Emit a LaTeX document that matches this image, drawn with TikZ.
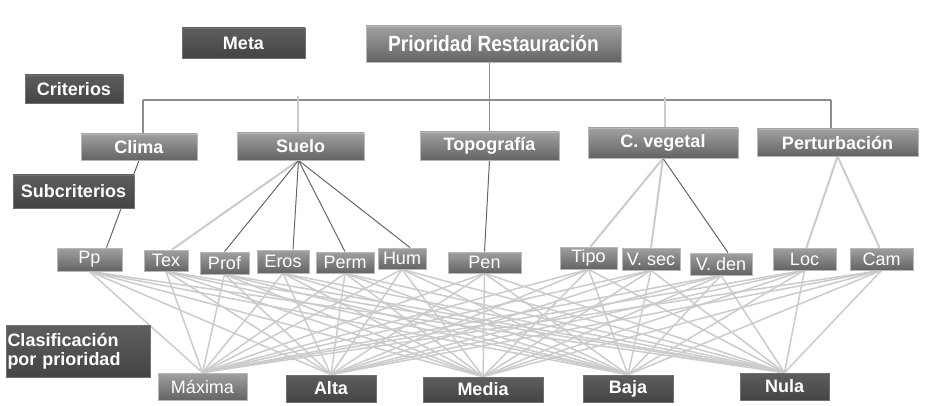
\documentclass[tikz,border=0pt]{standalone}
\usepackage{fontspec}
\setmainfont{Liberation Sans}
\usetikzlibrary{backgrounds,calc}
\definecolor{gtop}{HTML}{A0A0A0}
\definecolor{gbot}{HTML}{646464}
\definecolor{gedge}{HTML}{B8B8B8}
\definecolor{dtop}{HTML}{5E5E5E}
\definecolor{dbot}{HTML}{444444}
\definecolor{dedge}{HTML}{707070}
\definecolor{lightln}{HTML}{CBCBCB}
\definecolor{darkln}{HTML}{666666}
\definecolor{midln}{HTML}{8C8C8C}
\tikzset{
  basebox/.style={inner sep=0pt, text=white, line width=0.8pt, font=\fontsize{18}{20}\selectfont},
  medbox/.style={basebox, draw=gedge, top color=gtop, bottom color=gbot},
  medbold/.style={medbox, font=\fontsize{18}{20}\selectfont\bfseries},
  darkbox/.style={basebox, draw=dedge, top color=dtop, bottom color=dbot, font=\fontsize{18}{20}\selectfont\bfseries},
  lightconn/.style={draw=lightln, line width=1.5pt},
  darkconn/.style={draw=darkln, line width=1pt},
  midconn/.style={draw=midln, line width=1.2pt},
}
\begin{document}
\begin{tikzpicture}[x=1pt,y=-1pt]
\useasboundingbox (0,0) rectangle (926,406);
% labels
\node[darkbox, minimum width=123pt, minimum height=30pt] (meta) at (243.5,43) {Meta};
\node[medbox, minimum width=255pt, minimum height=36pt, font=\fontsize{22}{24}\selectfont\bfseries] (goal) at (493.5,44) {\scalebox{0.87}[1]{Prioridad Restauración}};
\node[darkbox, minimum width=98pt, minimum height=28pt] (crit) at (74,89) {Criterios};
\node[darkbox, minimum width=121pt, minimum height=33pt] (subcrit) at (73.5,191.5) {Subcriterios};
\node[darkbox, minimum width=144pt, minimum height=52pt, align=left, text width=141pt] (clasif) at (78,351) {Clasificación\\[-1pt]por prioridad};
% criteria
\node[medbold, minimum width=116pt, minimum height=26pt] (clima) at (139,147) {Clima};
\node[medbold, minimum width=127pt, minimum height=27pt] (suelo) at (300.5,146.5) {Suelo};
\node[medbold, minimum width=139pt, minimum height=28pt] (topo) at (489.5,146) {Topografía};
\node[medbold, minimum width=150pt, minimum height=30pt] (cveg) at (663,143) {C. vegetal};
\node[medbold, minimum width=161pt, minimum height=27pt] (pert) at (837.5,142.5) {Perturbación};
% subcriteria
\node[medbox, minimum width=65pt, minimum height=23pt] (pp) at (89.5,259.5) {Pp};
\node[medbox, minimum width=44pt, minimum height=21pt] (tex) at (166,260.5) {Tex};
\node[medbox, minimum width=49pt, minimum height=22pt] (prof) at (224.5,263) {Prof};
\node[medbox, minimum width=52pt, minimum height=23pt] (eros) at (283,261.5) {Eros};
\node[medbox, minimum width=58pt, minimum height=21pt] (perm) at (345,262.5) {Perm};
\node[medbox, minimum width=48pt, minimum height=21pt] (hum) at (402,258.5) {Hum};
\node[medbox, minimum width=73pt, minimum height=21pt] (pen) at (484.5,262.5) {Pen};
\node[medbox, minimum width=57pt, minimum height=22pt] (tipo) at (588.5,258) {Tipo};
\node[medbox, minimum width=58pt, minimum height=22pt] (vsec) at (651,259) {V. sec};
\node[medbox, minimum width=62pt, minimum height=22pt] (vden) at (721,264) {V. den};
\node[medbox, minimum width=63pt, minimum height=22pt] (loc) at (804.5,259) {Loc};
\node[medbox, minimum width=63pt, minimum height=22pt] (cam) at (881.5,259) {Cam};
% classes
\node[medbox, minimum width=89pt, minimum height=27pt] (max) at (202.5,386.5) {Máxima};
\node[darkbox, minimum width=90pt, minimum height=27pt] (alta) at (331,388.5) {Alta};
\node[darkbox, minimum width=120pt, minimum height=25pt] (media) at (483,389.5) {Media};
\node[darkbox, minimum width=90pt, minimum height=27pt] (baja) at (628,388.5) {Baja};
\node[darkbox, minimum width=89pt, minimum height=27pt] (nula) at (784.5,386.5) {Nula};
% connectors
\begin{scope}[on background layer]
\coordinate (hl) at (143,100);
\coordinate (hr) at (831,100);
\coordinate (hs) at (298,100);
\coordinate (hv) at (665,100);
\draw[midconn] (hl) -- (hr);
\draw[midconn] (goal.south -| topo.north) -- (topo.north);
\draw[midconn] (hl) -- (hl |- clima.north);
\draw[midconn] (hr) -- (hr |- pert.north);
\draw[lightconn] ($(hs)+(0,-4)$) -- (hs |- suelo.north);
\draw[lightconn] ($(hv)+(0,-3)$) -- (hv |- cveg.north);
% criteria to subcriteria
\draw[darkconn] (clima.south) -- ($(pp.north)+(17,0)$);
\draw[lightconn, line width=2pt] ($(suelo.south)+(-2,0)$) -- ($(tex.north)+(6,0)$);
\draw[darkconn] ($(suelo.south)+(-2,0)$) -- (prof.north);
\draw[darkconn] ($(suelo.south)+(-2,0)$) -- ($(eros.north)+(10,0)$);
\draw[darkconn] ($(suelo.south)+(-2,0)$) -- (perm.north);
\draw[darkconn] ($(suelo.south)+(-2,0)$) -- ($(hum.north)+(8,0)$);
\draw[darkconn] (topo.south) -- (pen.north);
\draw[lightconn, line width=2pt] (cveg.south) -- ($(tipo.north)+(2,0)$);
\draw[lightconn, line width=2pt] (cveg.south) -- (vsec.north);
\draw[darkconn] (cveg.south) -- ($(vden.north)+(7,0)$);
\draw[lightconn, line width=2pt] (pert.south) -- ($(loc.north)+(2,0)$);
\draw[lightconn, line width=2pt] (pert.south) -- ($(cam.north)+(-2,0)$);
% subcriteria to classes
\foreach \s in {pp,tex,prof,eros,perm,hum,pen,tipo,vsec,vden,loc,cam}{
  \foreach \c in {max,alta,media,baja,nula}{
    \draw[lightconn] (\s.south) -- (\c.north);
  }
}
\end{scope}
\end{tikzpicture}
\end{document}
